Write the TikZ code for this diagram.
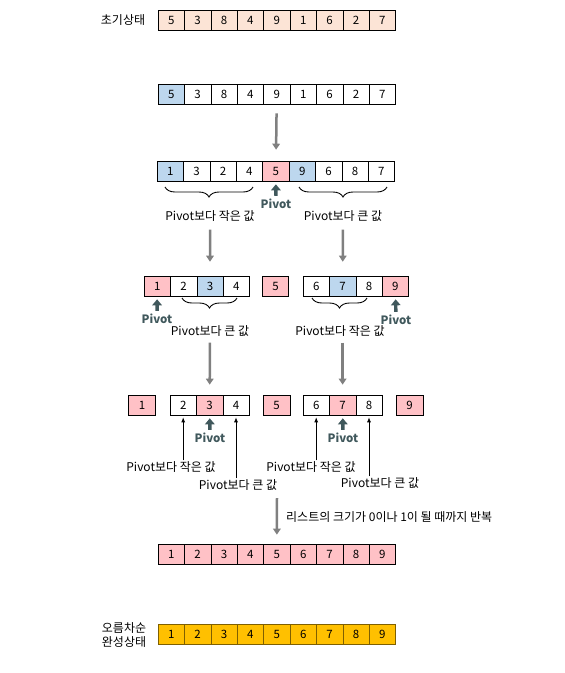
\documentclass[tikz,border=0pt]{standalone}
\usepackage{fontspec}
\setmainfont{Noto Sans CJK KR}
\usetikzlibrary{arrows.meta,decorations.pathreplacing}
\definecolor{peach}{RGB}{252,228,214}
\definecolor{lblue}{RGB}{189,215,238}
\definecolor{lpink}{RGB}{255,193,198}
\definecolor{gold}{RGB}{255,192,0}
\definecolor{goldline}{RGB}{127,96,0}
\definecolor{arrgray}{RGB}{128,128,128}
\definecolor{pivotcol}{RGB}{64,88,92}
\tikzset{
  cell/.style={draw, line width=0.6pt, minimum width=26.4pt, minimum height=20pt,
    inner sep=0pt, font=\fontsize{11.5}{13}\selectfont},
  flow/.style={draw=arrgray, line width=2.5pt, -{Triangle[length=6pt,width=7.5pt]}},
  pivarrow/.style={draw=pivotcol, line width=3.4pt, -{Triangle[length=6pt,width=9.5pt]}},
  pivtext/.style={text=pivotcol, inner sep=1pt, font=\bfseries\fontsize{11.5}{13}\selectfont},
  lbl/.style={inner sep=1pt, font=\fontsize{12}{14.5}\selectfont},
  grp/.style={decorate, decoration={brace, mirror, amplitude=10pt}, line width=0.9pt},
  pointer/.style={line width=0.8pt, -{Latex[length=5pt,width=4pt]}, shorten >=2pt}
}
\begin{document}
\begin{tikzpicture}[x=1pt,y=-1pt]
\useasboundingbox (0,0) rectangle (565,673);
% initial list
\node[lbl] (init) at (123,20) {초기상태};
\foreach \v [count=\i] in {5,3,8,4,9,1,6,2,7}
  \node[cell, fill=peach] (r1c\i) at (144.8+26.4*\i,20) {\v};
% choose pivot
\foreach \v/\f [count=\i] in {5/lblue,3/white,8/white,4/white,9/white,1/white,6/white,2/white,7/white}
  \node[cell, fill=\f] (r2c\i) at (144.8+26.4*\i,94) {\v};
% first partition
\foreach \v/\f [count=\i] in {1/lblue,3/white,2/white,4/white,5/lpink,9/lblue,6/white,8/white,7/white}
  \node[cell, fill=\f] (r3c\i) at (143.8+26.4*\i,171) {\v};
\draw[flow, shorten <=9pt, shorten >=11pt] (r2c5) -- (r3c5);
\node[pivtext] (pv3) at (276,204) {Pivot};
\draw[pivarrow, shorten <=2pt, shorten >=3pt] (pv3) -- (r3c5);
\draw[grp] (165,187) -- (253,187);
\draw[grp] (299,187) -- (387,187);
\node[lbl] (lA) at (210,216) {Pivot보다 작은 값};
\node[lbl] (lB) at (343,216) {Pivot보다 큰 값};
% second partition
\foreach \v/\f [count=\i] in {1/lpink,2/white,3/lblue,4/white}
  \node[cell, fill=\f] (r4a\i) at (130.8+26.4*\i,286) {\v};
\node[cell, fill=lpink] (r4p) at (275.5,286) {5};
\foreach \v/\f [count=\i] in {6/white,7/lblue,8/white,9/lpink}
  \node[cell, fill=\f] (r4b\i) at (289.8+26.4*\i,286) {\v};
\draw[flow, shorten <=7pt, shorten >=14pt] (lA) -- (r4a3);
\draw[flow, shorten <=7pt, shorten >=14pt] (lB) -- (r4b2);
\node[pivtext] (pv4a) at (157,319) {Pivot};
\node[pivtext] (pv4b) at (396,320) {Pivot};
\draw[pivarrow, shorten <=2pt, shorten >=3pt] (pv4a) -- (r4a1);
\draw[pivarrow, shorten <=2pt, shorten >=3pt] (pv4b) -- (r4b4);
\draw[grp] (182,298) -- (237,298);
\draw[grp] (312,298) -- (367,298);
\node[lbl] (lC) at (210,331) {Pivot보다 큰 값};
\node[lbl] (lD) at (340,331) {Pivot보다 작은 값};
% third partition
\node[cell, fill=lpink, minimum width=27pt] (r5a) at (142,405) {1};
\foreach \v/\f [count=\i] in {2/white,3/lpink,4/white}
  \node[cell, fill=\f] (r5b\i) at (156.8+26.4*\i,405) {\v};
\node[cell, fill=lpink, minimum width=27pt] (r5p) at (276.5,405) {5};
\foreach \v/\f [count=\i] in {6/white,7/lpink,8/white}
  \node[cell, fill=\f] (r5c\i) at (289.8+26.4*\i,405) {\v};
\node[cell, fill=lpink, minimum width=27pt] (r5d) at (409.5,405) {9};
\draw[flow, shorten <=5pt, shorten >=10pt] (lC) -- (r5b2);
\draw[flow, shorten <=5pt, shorten >=10pt] (lD.south -| r5c2) -- (r5c2);
\node[pivtext] (pv5a) at (210,438) {Pivot};
\node[pivtext] (pv5b) at (343,438) {Pivot};
\draw[pivarrow, shorten <=2pt, shorten >=3pt] (pv5a) -- (r5b2);
\draw[pivarrow, shorten <=2pt, shorten >=3pt] (pv5b) -- (r5c2);
\node[lbl] (l5a) at (171,467) {Pivot보다 작은 값};
\node[lbl] (l5b) at (238,485) {Pivot보다 큰 값};
\node[lbl] (l5c) at (311,467) {Pivot보다 작은 값};
\node[lbl] (l5d) at (380,483) {Pivot보다 큰 값};
\draw[pointer] (l5a.north -| r5b1) -- (r5b1);
\draw[pointer] (l5b.north -| r5b3) -- (r5b3);
\draw[pointer] (l5c.north -| r5c1) -- (r5c1);
\draw[pointer] (l5d.north -| r5c3) -- (r5c3);
% repeat until done
\foreach \v [count=\i] in {1,2,3,4,5,6,7,8,9}
  \node[cell, fill=lpink] (r6c\i) at (144.8+26.4*\i,554) {\v};
\coordinate (s6) at (277,498);
\draw[flow, shorten >=9pt] (s6) -- (r6c5);
\node[lbl, anchor=west] (rep) at (285,517) {리스트의 크기가 0이나 1이 될 때까지 반복};
% sorted
\node[lbl, align=center] (done) at (124,635) {오름차순\\완성상태};
\foreach \v [count=\i] in {1,2,3,4,5,6,7,8,9}
  \node[cell, fill=gold, draw=goldline] (r7c\i) at (144.8+26.4*\i,634) {\v};
\end{tikzpicture}
\end{document}
